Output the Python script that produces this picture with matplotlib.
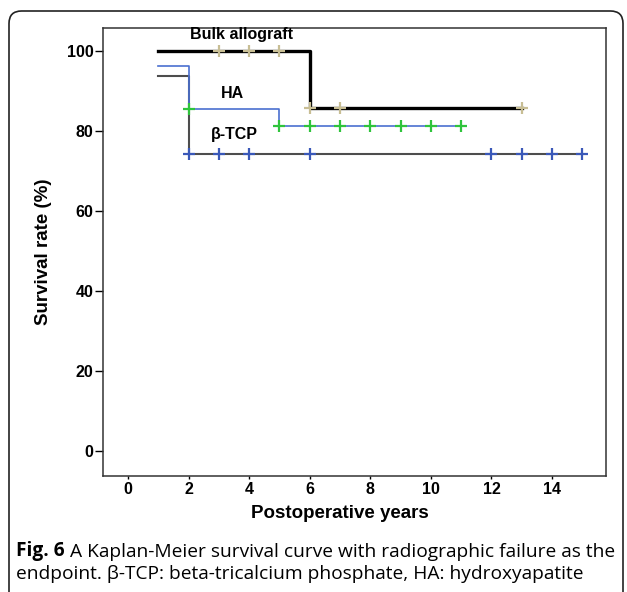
import numpy as np
import matplotlib
matplotlib.use("Agg")
import matplotlib.pyplot as plt
from matplotlib.patches import FancyBboxPatch

# Kaplan-Meier steps (years, survival %)
bulk_t = [1, 6, 13]
bulk_s = [100, 85.7, 85.7]
bulk_cens = [3, 4, 5, 6, 7, 13]

ha_t = [1, 2, 5, 11]
ha_s = [96.3, 85.4, 81.3, 81.3]
ha_cens = [2, 5, 6, 7, 8, 9, 10, 11]

tcp_t = [1, 2, 15]
tcp_s = [93.8, 74.3, 74.3]
tcp_cens = [2, 3, 4, 6, 12, 13, 14, 15]

XTICKS = [0, 2, 4, 6, 8, 10, 12, 14]
YTICKS = [0, 20, 40, 60, 80, 100]

CAPTION_BOLD = "Fig. 6"
CAPTION_1 = " A Kaplan-Meier survival curve with radiographic failure as the"
CAPTION_2 = "endpoint. β-TCP: beta-tricalcium phosphate, HA: hydroxyapatite"


def surv_at(times, surv, t):
    i = np.searchsorted(times, t, side="right") - 1
    return surv[max(i, 0)]


plt.rcParams["font.family"] = ["Liberation Sans", "DejaVu Sans"]

W, H = 627, 592
fig = plt.figure(figsize=(W / 100, H / 100), dpi=100)
ax = fig.add_axes([103 / W, 1 - 476 / H, (606 - 103) / W, (476 - 28) / H])

# outer frame of the figure panel (open at the bottom)
frame = FancyBboxPatch((9 / W, -0.2), (623 - 9) / W, 1.2 - 11 / H,
                       boxstyle="round,pad=0,rounding_size=0.02",
                       transform=fig.transFigure, fill=False,
                       edgecolor="#222222", linewidth=1.2, mutation_aspect=W / H)
fig.patches.append(frame)

# curves
ax.plot(tcp_t, tcp_s, drawstyle="steps-post", color="#4d4d4d", linewidth=1.5, zorder=2)
ax.plot(tcp_cens, [surv_at(tcp_t, tcp_s, t) for t in tcp_cens], "+",
        color="#3a58b8", markersize=8, markeredgewidth=1.6, zorder=3)

ax.plot(ha_t, ha_s, drawstyle="steps-post", color="#4a6fd0", linewidth=1.2, zorder=4)
ax.plot(ha_cens, [surv_at(ha_t, ha_s, t) for t in ha_cens], "+",
        color="#2fc43c", markersize=8, markeredgewidth=1.6, zorder=5)

ax.plot(bulk_t, bulk_s, drawstyle="steps-post", color="black", linewidth=2.4, zorder=6)
ax.plot(bulk_cens, [surv_at(bulk_t, bulk_s, t) for t in bulk_cens], "+",
        color="#c8be94", markersize=8, markeredgewidth=1.6, zorder=7)

ax.text(3.75, 104.2, "Bulk allograft", ha="center", va="center",
        fontsize=11.5, fontweight="bold")
ax.text(3.45, 89.5, "HA", ha="center", va="center",
        fontsize=11.5, fontweight="bold")
ax.text(3.5, 79, "β-TCP", ha="center", va="center",
        fontsize=11.5, fontweight="bold")

ax.set_xlim(-0.825, 15.78)
ax.set_ylim(-6.25, 105.75)
ax.set_xticks(XTICKS)
ax.set_yticks(YTICKS)
ax.tick_params(axis="y", length=6, width=1, pad=1, labelsize=11.5)
ax.tick_params(axis="x", length=2, width=1, pad=2, labelsize=11.5)
for lab in ax.get_xticklabels() + ax.get_yticklabels():
    lab.set_fontweight("bold")
for sp in ax.spines.values():
    sp.set_color("#333333")
    sp.set_linewidth(1.1)

fig.text(43 / W, 1 - 252 / H, "Survival rate (%)", rotation=90, ha="center", va="center",
         fontsize=13.5, fontweight="bold")
fig.text(340 / W, 1 - 513 / H, "Postoperative years", ha="center", va="center",
         fontsize=13.5, fontweight="bold")

# caption
t1 = fig.text(16 / W, 1 - 556 / H, CAPTION_BOLD, ha="left", va="baseline",
              fontsize=13.8, fontweight="bold", family="Open Sans")
ax.annotate(CAPTION_1, xy=(1, 0), xycoords=t1, ha="left", va="bottom",
            fontsize=13.8, family="Open Sans", annotation_clip=False)
fig.text(16 / W, 1 - 579 / H, CAPTION_2, ha="left", va="baseline",
         fontsize=13.8, family="Open Sans")

fig.savefig("out.png", dpi=100)
